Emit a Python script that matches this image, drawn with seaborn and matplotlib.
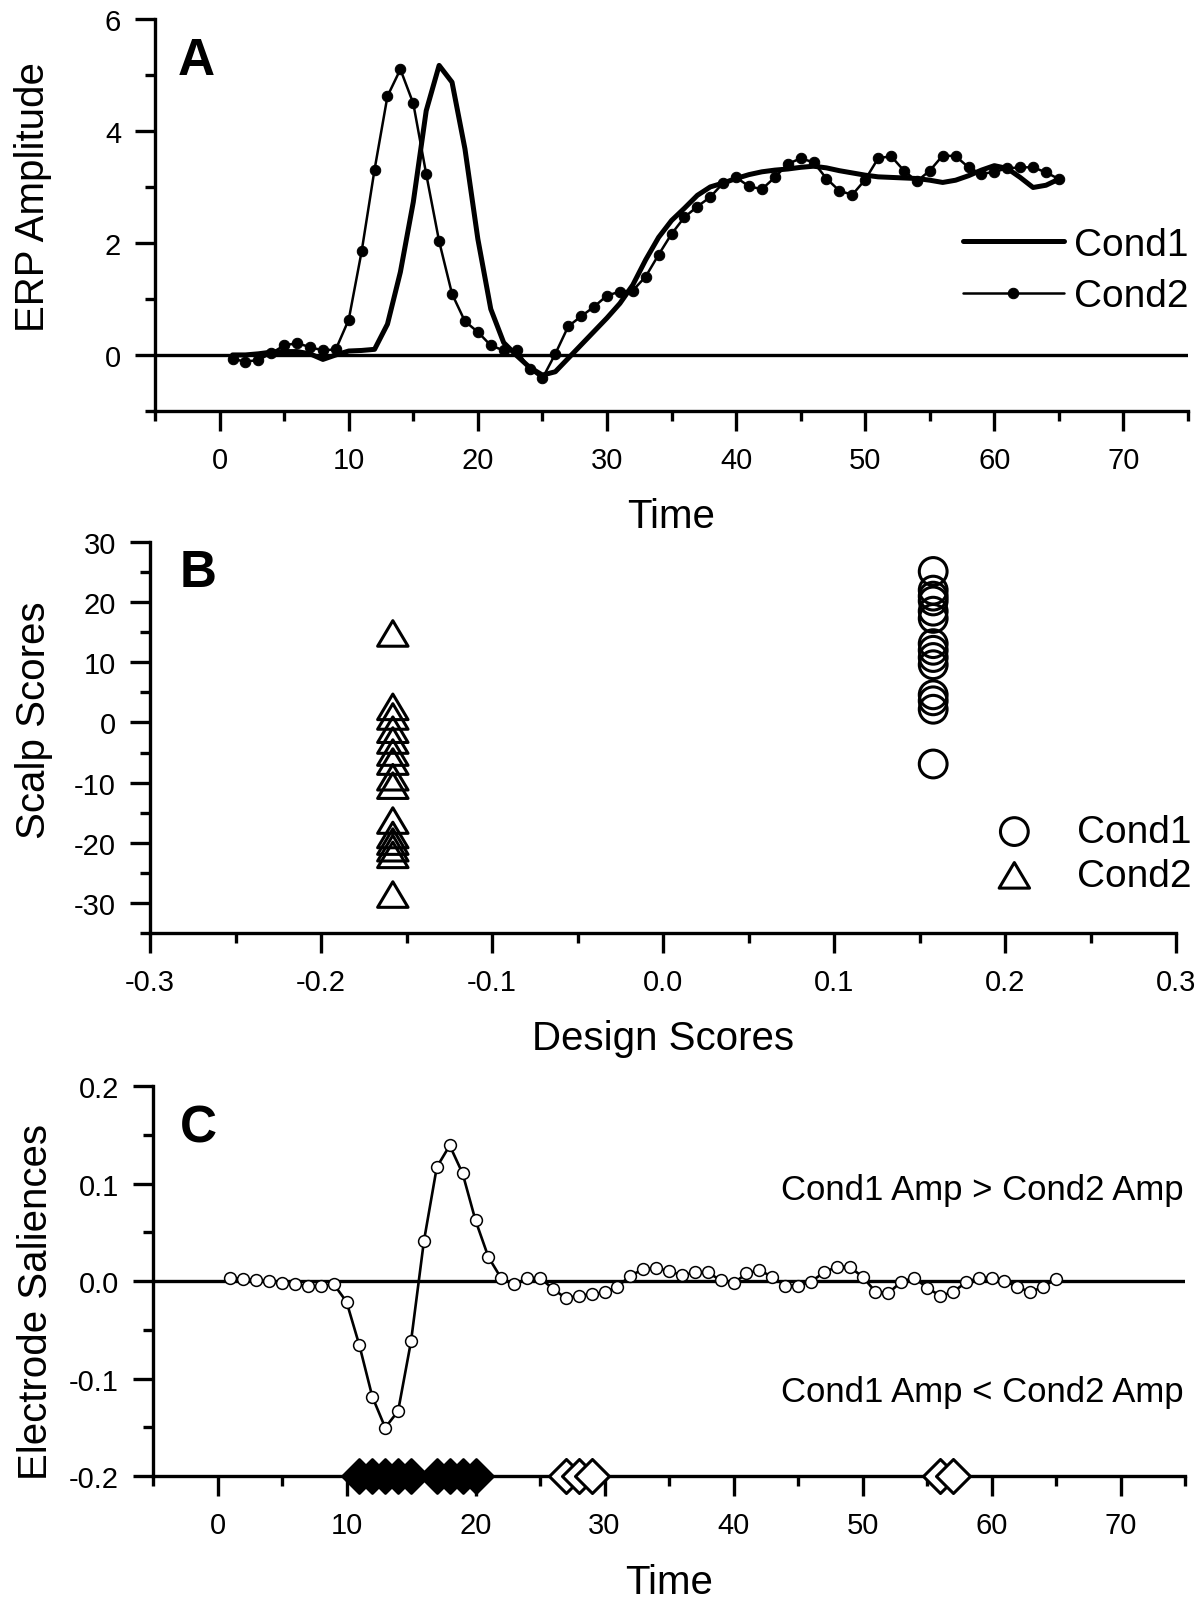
import matplotlib
matplotlib.use('Agg')
import matplotlib.pyplot as plt
from matplotlib.path import Path
from matplotlib.ticker import MultipleLocator, FormatStrFormatter
import seaborn as sns

sns.set_theme(style='white')
plt.rcParams['font.family'] = ['Liberation Sans', 'DejaVu Sans']
plt.rcParams['axes.unicode_minus'] = False
plt.rcParams['axes.linewidth'] = 2.4
plt.rcParams['text.color'] = 'black'
plt.rcParams['axes.labelcolor'] = 'black'

# ---- data ----
time = list(range(1, 66))

cond1_amp = [0.0, 0.0, 0.02, 0.05, 0.06, 0.06, 0.02, -0.08, 0.0, 0.07,
             0.08, 0.1, 0.55, 1.48, 2.73, 4.36, 5.17, 4.87, 3.68, 2.07,
             0.82, 0.22, -0.01, -0.22, -0.36, -0.3, -0.06, 0.18, 0.42, 0.66,
             0.92, 1.25, 1.7, 2.1, 2.4, 2.62, 2.85, 3.0, 3.07, 3.15,
             3.22, 3.27, 3.3, 3.32, 3.35, 3.37, 3.34, 3.29, 3.25, 3.21,
             3.18, 3.17, 3.16, 3.15, 3.12, 3.08, 3.12, 3.2, 3.3, 3.38,
             3.33, 3.17, 2.99, 3.03, 3.14]

cond2_amp = [-0.07, -0.12, -0.09, 0.03, 0.17, 0.21, 0.14, 0.08, 0.1, 0.63,
             1.85, 3.31, 4.62, 5.1, 4.49, 3.23, 2.03, 1.09, 0.6, 0.41,
             0.17, 0.08, 0.09, -0.25, -0.42, 0.02, 0.51, 0.69, 0.86, 1.06,
             1.13, 1.15, 1.4, 1.79, 2.16, 2.46, 2.65, 2.82, 3.07, 3.17,
             3.01, 2.96, 3.17, 3.41, 3.51, 3.44, 3.15, 2.93, 2.86, 3.13,
             3.51, 3.55, 3.29, 3.1, 3.29, 3.56, 3.55, 3.35, 3.23, 3.27,
             3.33, 3.35, 3.35, 3.26, 3.14]

scalp_cond1 = [25.1, 22.0, 21.0, 20.2, 18.5, 17.3, 13.1, 12.0, 10.8, 9.6,
               4.6, 3.6, 2.2, -6.9]
scalp_cond2 = [14.8, 2.6, 1.0, -1.2, -3.0, -5.0, -6.5, -9.1, -10.5, -16.3,
               -18.7, -19.8, -20.9, -22.0, -28.6]
design_cond1 = 0.158
design_cond2 = -0.158

saliences = [0.0034, 0.0024, 0.001, -0.0003, -0.0017, -0.0034, -0.005, -0.0055, -0.003, -0.0212,
             -0.066, -0.1186, -0.1504, -0.1333, -0.0619, 0.041, 0.1169, 0.1391, 0.1104, 0.0622,
             0.0246, 0.0027, -0.0034, 0.0027, 0.0034, -0.008, -0.0176, -0.0149, -0.0136, -0.0115,
             -0.0058, 0.0054, 0.0122, 0.0136, 0.0102, 0.0061, 0.0088, 0.0088, 0.001, -0.0024,
             0.0078, 0.0112, 0.0044, -0.0047, -0.0047, -0.0007, 0.0088, 0.0146, 0.0146, 0.0044,
             -0.0108, -0.0125, -0.0007, 0.0034, -0.0068, -0.0149, -0.0115, -0.0014, 0.0034, 0.0034,
             0.0, -0.0058, -0.0115, -0.0058, 0.002]

sig_filled = [11, 12, 13, 14, 15, 17, 18, 19, 20]
sig_open = [27, 28, 29, 56, 57]

TICK = 21
LABEL = 29
LEG = 28
# flattened, closed triangle like the Origin symbol
TRI = Path([(-1, -0.84), (1, -0.84), (0, 0.84), (-1, -0.84)],
           [Path.MOVETO, Path.LINETO, Path.LINETO, Path.CLOSEPOLY])


def style_axis(ax):
    sns.despine(ax=ax)
    ax.tick_params(which='both', direction='out', width=2.4, labelsize=TICK,
                   bottom=True, left=True, colors='black')
    ax.tick_params(which='major', length=14.4)
    ax.tick_params(which='minor', length=7.2)
    ax.tick_params(axis='x', which='major', pad=11)
    ax.tick_params(axis='y', which='major', pad=10)
    for s in ax.spines.values():
        s.set_color('black')


fig = plt.figure(figsize=(12.01, 16.06), dpi=100)

# ---- panel A ----
axA = fig.add_axes([0.1291, 0.7435, 0.8601, 0.2441])
axA.axhline(0, color='black', lw=2.4, zorder=1)
sns.lineplot(x=time, y=cond1_amp, ax=axA, color='black', lw=3.6, label='Cond1')
sns.lineplot(x=time, y=cond2_amp, ax=axA, color='black', lw=1.8, marker='o',
             markersize=7.5, mec='black', mfc='black', label='Cond2')
axA.set_xlim(-5, 75)
axA.set_ylim(-1, 6)
axA.xaxis.set_major_locator(MultipleLocator(10))
axA.xaxis.set_minor_locator(MultipleLocator(5))
axA.yaxis.set_major_locator(MultipleLocator(2))
axA.yaxis.set_minor_locator(MultipleLocator(1))
style_axis(axA)
axA.set_xlabel('Time', fontsize=LABEL)
axA.set_ylabel('ERP Amplitude', fontsize=LABEL)
axA.xaxis.set_label_coords(0.5, -0.219)
axA.yaxis.set_label_coords(-0.1, 0.547)
axA.text(0.022, 0.957, 'A', transform=axA.transAxes, fontsize=37,
         fontweight='bold', ha='left', va='top')
axA.legend(loc='upper left', bbox_to_anchor=(0.782, 0.47), frameon=False,
           fontsize=LEG, handlelength=2.6, handletextpad=0.26,
           labelspacing=0.4, borderaxespad=0, borderpad=0)

# ---- panel B ----
axB = fig.add_axes([0.1249, 0.4184, 0.8543, 0.2435])
sns.scatterplot(x=[design_cond1] * len(scalp_cond1), y=scalp_cond1, ax=axB,
                marker='o', s=400, facecolor='none', edgecolor='black',
                linewidth=2.2, label='Cond1')
sns.scatterplot(x=[design_cond2] * len(scalp_cond2), y=scalp_cond2, ax=axB,
                marker=TRI, s=480, facecolor='none', edgecolor='black',
                linewidth=2.2, label='Cond2')
axB.set_xlim(-0.3, 0.3)
axB.set_ylim(-35, 30)
axB.xaxis.set_major_locator(MultipleLocator(0.1))
axB.xaxis.set_minor_locator(MultipleLocator(0.05))
axB.xaxis.set_major_formatter(FormatStrFormatter('%.1f'))
axB.yaxis.set_major_locator(MultipleLocator(10))
axB.yaxis.set_minor_locator(MultipleLocator(5))
style_axis(axB)
axB.set_xlabel('Design Scores', fontsize=LABEL)
axB.set_ylabel('Scalp Scores', fontsize=LABEL)
axB.xaxis.set_label_coords(0.5, -0.22)
axB.yaxis.set_label_coords(-0.095, 0.547)
axB.text(0.029, 0.985, 'B', transform=axB.transAxes, fontsize=37,
         fontweight='bold', ha='left', va='top')
axB.legend(loc='upper left', bbox_to_anchor=(0.814, 0.305), frameon=False,
           fontsize=LEG, handlelength=1.5, handletextpad=0.85,
           labelspacing=0.2, borderaxespad=0, borderpad=0, scatterpoints=1)

# ---- panel C ----
axC = fig.add_axes([0.1274, 0.0803, 0.8593, 0.2428])
axC.axhline(0, color='black', lw=2.4, zorder=1)
sns.lineplot(x=time, y=saliences, ax=axC, color='black', lw=1.9, marker='o',
             markersize=8.5, mfc='white', mec='black', mew=1.1)
sns.scatterplot(x=sig_filled, y=[-0.2] * len(sig_filled), ax=axC, marker='D',
                s=300, color='black', edgecolor='black', linewidth=2,
                clip_on=False, zorder=5)
sns.scatterplot(x=sig_open, y=[-0.2] * len(sig_open), ax=axC, marker='D',
                s=300, facecolor='white', edgecolor='black', linewidth=2.2,
                clip_on=False, zorder=5)
axC.set_xlim(-5, 75)
axC.set_ylim(-0.2, 0.2)
axC.xaxis.set_major_locator(MultipleLocator(10))
axC.xaxis.set_minor_locator(MultipleLocator(5))
axC.yaxis.set_major_locator(MultipleLocator(0.1))
axC.yaxis.set_minor_locator(MultipleLocator(0.05))
axC.yaxis.set_major_formatter(FormatStrFormatter('%.1f'))
style_axis(axC)
axC.set_xlabel('Time', fontsize=LABEL)
axC.set_ylabel('Electrode Saliences', fontsize=LABEL)
axC.xaxis.set_label_coords(0.5, -0.223)
axC.yaxis.set_label_coords(-0.095, 0.449)
axC.text(0.026, 0.956, 'C', transform=axC.transAxes, fontsize=37,
         fontweight='bold', ha='left', va='top')
axC.text(74.9, 0.084, 'Cond1 Amp > Cond2 Amp', fontsize=25, ha='right', va='baseline')
axC.text(74.9, -0.123, 'Cond1 Amp < Cond2 Amp', fontsize=25, ha='right', va='baseline')

fig.savefig('out.png', dpi=100, facecolor='white')
